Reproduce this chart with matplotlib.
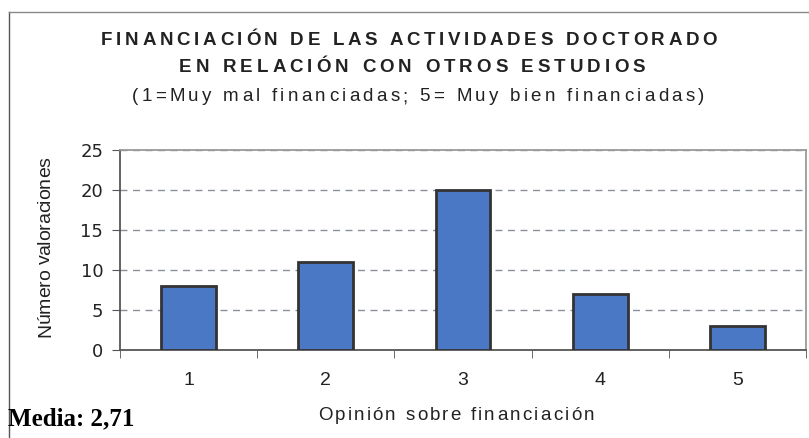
import matplotlib.pyplot as plt
from matplotlib.lines import Line2D
from matplotlib.transforms import IdentityTransform

categorias = ['1', '2', '3', '4', '5']
valoraciones = [8, 11, 20, 7, 3]
yticks = [0, 5, 10, 15, 20, 25]

W, H = 809, 438
fig = plt.figure(figsize=(W / 100, H / 100), dpi=100)
ax = fig.add_axes([120 / W, 1 - 350 / H, 686 / W, 200 / H])
renderer = fig.canvas.get_renderer()


def text_width(s, **kw):
    t = fig.text(0, 0, s, **kw)
    w = t.get_window_extent(renderer).width
    t.remove()
    return w


def spaced_text(x0, x1, base, s, vertical=False, **kw):
    # texto con espaciado entre letras, de x0 a x1 (px); vertical: de abajo a arriba
    gap = (abs(x1 - x0) - text_width(s, **kw)) / (len(s) - 1)
    for k, ch in enumerate(s):
        if ch == ' ':
            continue
        off = text_width(s[:k + 1], **kw) - text_width(ch, **kw) + k * gap
        if vertical:
            fig.text(base, H - (x0 - off), ch, transform=IdentityTransform(), rotation=90,
                     rotation_mode='anchor', ha='left', va='baseline', **kw)
        else:
            fig.text(x0 + off, H - base, ch, transform=IdentityTransform(), ha='left', va='baseline', **kw)


x = range(len(categorias))
ax.bar(x, valoraciones, width=0.4, color='#4a78c4', edgecolor='#333333', linewidth=2, zorder=3)

ax.set_xlim(-0.5, len(categorias) - 0.5)
ax.set_ylim(0, 25)
ax.set_yticks(yticks)
ax.set_xticks(x)
ax.set_xticklabels(categorias)
ax.set_xticks([i - 0.5 for i in range(len(categorias) + 1)], minor=True)
ax.tick_params(axis='x', which='major', length=0, pad=16)
ax.tick_params(axis='x', which='minor', length=6, color='#555555')
ax.tick_params(axis='y', length=6, color='#555555', pad=6)
for lab in ax.get_xticklabels():
    lab.set_fontfamily('Liberation Sans')
    lab.set_fontsize(14)
    lab.set_color('#222222')
for lab in ax.get_yticklabels():
    lab.set_fontfamily('DejaVu Sans')
    lab.set_fontsize(13)
    lab.set_color('#222222')

ax.grid(axis='y', linestyle=(0, (5, 4)), color='#8a8f99', linewidth=1, zorder=0)
ax.spines['left'].set_color('#555555')
ax.spines['bottom'].set_color('#555555')
ax.spines['top'].set_color('#9a9a9a')
ax.spines['right'].set_color('#9a9a9a')
for s in ax.spines.values():
    s.set_linewidth(1.3)

txt = dict(family='Liberation Sans', color='#222222')
spaced_text(101, 717, 45, 'FINANCIACIÓN DE LAS ACTIVIDADES DOCTORADO', fontsize=13.5, fontweight='bold', **txt)
spaced_text(179, 645, 72, 'EN RELACIÓN CON OTROS ESTUDIOS', fontsize=13.5, fontweight='bold', **txt)
spaced_text(132, 704, 101, '(1=Muy mal financiadas; 5= Muy bien financiadas)', fontsize=13.5, **txt)
spaced_text(318, 594, 420, 'Opinión sobre financiación', fontsize=13.5, **txt)
spaced_text(337, 157, 50, 'Número valoraciones', vertical=True, fontsize=14, **txt)

fig.text(8, H - 425, 'Media: 2,71', transform=IdentityTransform(), ha='left', va='baseline',
         fontsize=18, fontweight='bold', family='Liberation Serif')

# marco escaneado (izquierda y arriba)
fig.add_artist(Line2D([9 / W, 9 / W], [0, 1 - 12 / H], transform=fig.transFigure, color='#555555', lw=1))
fig.add_artist(Line2D([9 / W, 1], [1 - 12 / H, 1 - 12 / H], transform=fig.transFigure, color='#888888', lw=1))

fig.savefig('out.png', dpi=100)
